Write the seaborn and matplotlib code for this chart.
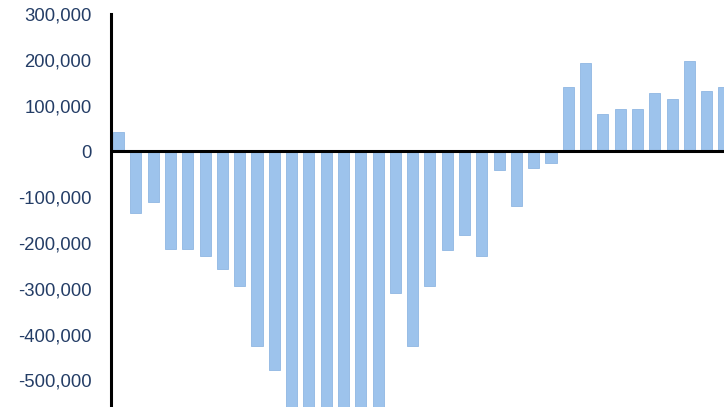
import numpy as np
import pandas as pd
from matplotlib import pyplot as plt
from matplotlib.ticker import FuncFormatter
import seaborn as sns

# monthly change (bars 11-16 run past the bottom edge)
months = [f"m{i:02d}" for i in range(1, 37)]
change = [
    42000, -134000, -110000, -212000, -212000, -229000, -257000, -294000,
    -424000, -477000, -597000, -681000, -741000, -681000, -652000, -600000,
    -310000, -424000, -294000, -215000, -183000, -229000, -41000, -119000,
    -37000, -25000, 140000, 193000, 82000, 92000, 92000, 128000,
    115000, 197000, 132000, 140000,
]
yticks = [300000, 200000, 100000, 0, -100000, -200000, -300000, -400000, -500000]

df = pd.DataFrame({"month": months, "change": change})

sns.set_style("white")
plt.rcParams["font.family"] = ["Liberation Sans", "DejaVu Sans"]

fig = plt.figure(figsize=(7.24, 4.07), dpi=100)
ax = fig.add_axes([111 / 724, 0, 613 / 724, (407 - 14) / 407])

sns.barplot(data=df, x="month", y="change", color="#9dc3ec", saturation=1,
            width=0.64, edgecolor="#8fb7e2", linewidth=0.6, ax=ax)

ax.axhline(0, color="black", lw=2.2, zorder=3)
ax.set_ylim(-558000, 300000)
ax.set_xlim(-0.44, 35.0)
ax.set_yticks(yticks)
ax.yaxis.set_major_formatter(FuncFormatter(lambda v, p: f"{v:,.0f}"))
ax.tick_params(axis="y", length=0, pad=14, labelsize=13.3, labelcolor="#243d66")
ax.set_xticks([])
ax.set_xlabel("")
ax.set_ylabel("")

for s in ["top", "right", "bottom"]:
    ax.spines[s].set_visible(False)
ax.spines["left"].set_color("black")
ax.spines["left"].set_linewidth(2.2)

fig.savefig("out.png", dpi=100)
